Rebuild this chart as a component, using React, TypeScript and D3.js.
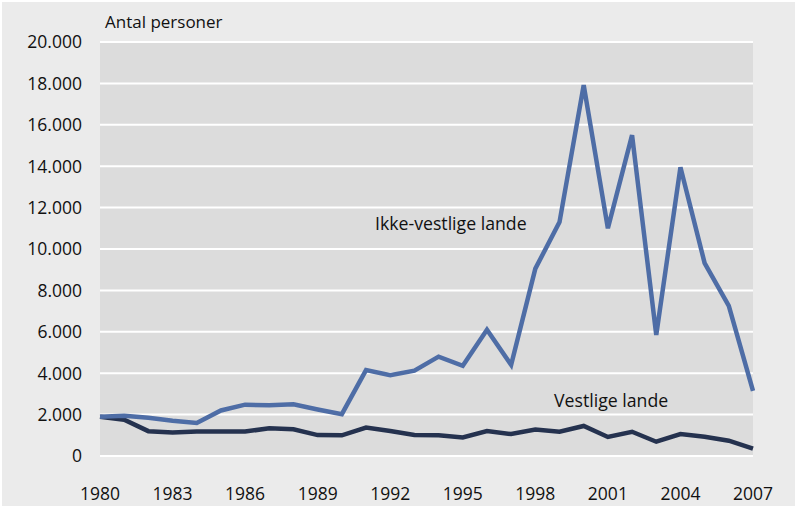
import React from "react";
import * as d3 from "d3";

const years: number[] = d3.range(1980, 2008);
const ikkeVestlige: number[] = [
  1900, 1950, 1850, 1700, 1600, 2200, 2480, 2450, 2500, 2250, 2020,
  4150, 3900, 4120, 4800, 4360, 6100, 4400, 9050, 11300, 17920, 11000,
  15500, 5850, 13950, 9320, 7250, 3150,
];
const vestlige: number[] = [
  1900, 1750, 1200, 1130, 1180, 1180, 1180, 1340, 1290, 1010, 1000,
  1370, 1210, 1020, 1000, 900, 1210, 1060, 1280, 1170, 1450, 920,
  1170, 690, 1060, 930, 740, 360,
];
const yTicks: number[] = [0, 2000, 4000, 6000, 8000, 10000, 12000, 14000, 16000, 18000, 20000];
const xTickYears: number[] = [1980, 1983, 1986, 1989, 1992, 1995, 1998, 2001, 2004, 2007];

const W = 795;
const H = 506;
const left = 100;
const right = 753;
const top = 42;
const bottom = 456;
const font = "'Open Sans', 'Noto Sans', sans-serif";

export default function App() {
  const x = d3.scaleLinear().domain([1980, 2007]).range([left, right]);
  const y = d3.scaleLinear().domain([0, 20000]).range([bottom, top]);
  const fmt = (v: number) => (v === 0 ? "0" : d3.format(",")(v).replace(/,/g, "."));
  const line = d3
    .line<number>()
    .x((_, i) => x(years[i]))
    .y((d) => y(d));

  return (
    <svg
      width={W}
      height={H}
      style={{ position: "fixed", left: 0, top: 0, display: "block" }}
    >
      <rect x={0} y={0} width={W} height={H} fill="#ffffff" />
      <rect x={2} y={2} width={W - 2} height={H - 2} fill="#ebebeb" />
      <rect x={left} y={top} width={right - left} height={bottom - top} fill="#dcdcdc" />
      {yTicks.map((t) => (
        <line key={t} x1={left} x2={right} y1={y(t)} y2={y(t)} stroke="#ffffff" strokeWidth={2} />
      ))}
      {yTicks.map((t) => (
        <text
          key={"l" + t}
          x={82}
          y={y(t)}
          dy="0.36em"
          textAnchor="end"
          fontFamily={font}
          fontSize={17.5}
          fill="#111"
        >
          {fmt(t)}
        </text>
      ))}
      {xTickYears.map((yr) => (
        <text
          key={"x" + yr}
          x={x(yr)}
          y={500}
          textAnchor="middle"
          fontFamily={font}
          fontSize={17.5}
          fill="#111"
        >
          {yr}
        </text>
      ))}
      <text x={105} y={28} fontFamily={font} fontSize={17} fill="#111">
        Antal personer
      </text>
      <path d={line(vestlige) || ""} fill="none" stroke="#25324f" strokeWidth={4.5} strokeLinejoin="miter" />
      <path d={line(ikkeVestlige) || ""} fill="none" stroke="#4e6da6" strokeWidth={4.5} strokeLinejoin="miter" />
      <text x={375} y={230} fontFamily={font} fontSize={17.7} fill="#111">
        Ikke-vestlige lande
      </text>
      <text x={554} y={407} fontFamily={font} fontSize={17.7} fill="#111">
        Vestlige lande
      </text>
    </svg>
  );
}
